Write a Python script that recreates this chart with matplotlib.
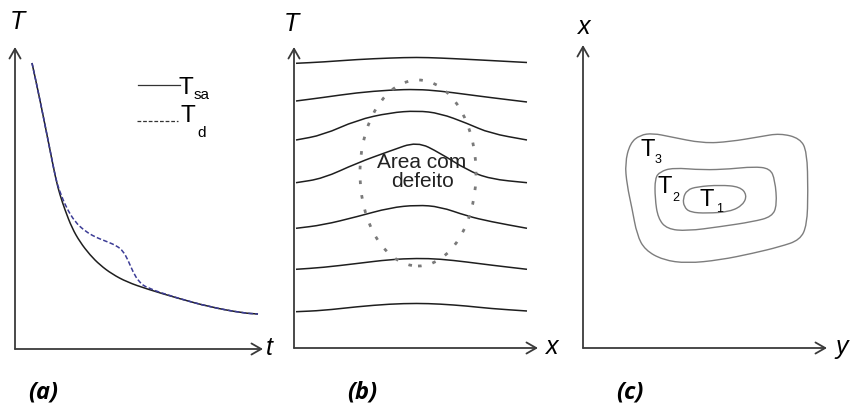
import numpy as np
import matplotlib
matplotlib.use("Agg")
import matplotlib.pyplot as plt
from matplotlib.path import Path
from matplotlib.patches import PathPatch, Ellipse

# ---- data (units: picture pixels measured from each panel's origin) ----
# (a) cooling curves
t_sa = [17, 25, 35, 41, 45, 50, 57, 65, 75, 85, 97, 112, 132, 162, 195, 228, 243]
T_sa = [286, 249, 199, 169, 154, 139, 121, 107, 94, 84, 75, 67, 60, 51, 42, 36, 35]
t_d = [17, 25, 35, 41, 45, 51, 60, 70, 80, 93, 102, 108, 113, 118, 124, 132, 162, 195, 228, 243]
T_d = [286, 249, 199, 169, 157, 142, 127, 118, 112, 107, 103, 98, 89, 77, 67, 61, 51, 42, 36, 35]

# (b) isotherm lines over x
x_lines = [2, 29, 63, 96, 123, 146, 173, 196, 233]
T_lines = [
    [284.7, 286, 288.5, 290, 290.7, 290, 288.7, 287.5, 285.5],
    [247, 250.5, 255.3, 258, 258.7, 257, 253.5, 250.5, 246],
    [208, 213, 228, 235.3, 237.3, 234.7, 224.7, 214.7, 208],
    [165.3, 169.5, 185, 197, 206.5, 195, 178, 169, 165.3],
    [119.7, 123, 131.3, 140.3, 143, 141.3, 132, 126.5, 119.7],
    [78.7, 80.5, 84.5, 88.5, 89.7, 89, 86, 83, 78.7],
    [36.3, 37.5, 41.3, 44, 44.7, 44, 42, 39.5, 37],
]
defect_center = (124, 175)
defect_size = (116, 186)

# (c) contour outlines in the y-x plane
T3_y = [42, 47, 57, 70, 87, 120, 147, 177, 197, 217, 224, 225, 224, 217, 197, 170, 137, 104, 80, 62, 54, 49, 44]
T3_x = [184.7, 204.7, 213, 214.7, 211.3, 204.7, 206.3, 211.3, 214.7, 209.7, 196.3, 156.3, 123, 108,
        101.3, 94.7, 88, 84.7, 88, 98, 113, 139.7, 163]
T2_y = [72, 77, 90, 120, 147, 170, 187, 192, 194, 189, 170, 137, 104, 84, 75, 72]
T2_x = [169.7, 176.3, 180.3, 178, 179, 181.3, 179.7, 168, 143, 131.3, 126.3, 121.3, 117, 119, 129.7, 149.7]
T1_y = [100, 104, 114, 137, 157, 164, 160, 147, 124, 107, 101]
T1_x = [149.7, 158, 161.3, 163, 161.3, 153, 143, 136.3, 134.7, 135.7, 141.3]

AX_COL = "#3a3a3a"
FONT = "Liberation Sans"


def smooth_path(xs, ys, closed=False):
    pts = np.column_stack([xs, ys]).astype(float)
    if closed:
        mids = (pts + np.roll(pts, -1, axis=0)) / 2
        verts = [mids[-1]]
        codes = [Path.MOVETO]
        for i in range(len(pts)):
            verts += [pts[i], mids[i]]
            codes += [Path.CURVE3, Path.CURVE3]
    else:
        mids = (pts[:-1] + pts[1:]) / 2
        verts = [pts[0], mids[0]]
        codes = [Path.MOVETO, Path.LINETO]
        for i in range(1, len(pts) - 1):
            verts += [pts[i], mids[i]]
            codes += [Path.CURVE3, Path.CURVE3]
        verts.append(pts[-1])
        codes.append(Path.LINETO)
    return Path(verts, codes)


def panel(fig, x0, y0, w, h):
    W, H = 854.0, 409.0
    ax = fig.add_axes([x0 / W, (H - y0) / H, w / W, h / H])
    ax.set_xlim(0, w)
    ax.set_ylim(0, h)
    ax.axis("off")
    arrow = dict(arrowstyle="->,head_length=0.7,head_width=0.4", color=AX_COL,
                 lw=1.3, shrinkA=0, shrinkB=0)
    ax.annotate("", xy=(w, 0), xytext=(0, 0), arrowprops=arrow, annotation_clip=False)
    ax.annotate("", xy=(0, h), xytext=(0, 0), arrowprops=arrow, annotation_clip=False)
    return ax


def label(ax, x, y, s, size=18, style="italic"):
    ax.text(x, y, s, fontsize=size, style=style, family=FONT, ha="center", va="center",
            clip_on=False)


def tag(ax, x, y, s):
    ax.text(x, y, s, fontsize=17, style="italic", weight="bold",
            family=["Open Sans", "DejaVu Sans"], ha="center", va="center", clip_on=False)


fig = plt.figure(figsize=(8.54, 4.09), dpi=100)

# ---- (a) ----
ax = panel(fig, 15, 349, 248, 302)
ax.add_patch(PathPatch(smooth_path(t_sa, T_sa), fill=False, color="#1e1e1e", lw=1.1))
ax.add_patch(PathPatch(smooth_path(t_d, T_d), fill=False, color="#3c3c96", lw=1.1,
                       linestyle=(0, (3, 1.5))))
ax.plot([123, 165], [264, 264], color="#333333", lw=0.9)
ax.plot([122, 163], [228, 228], color="#333333", lw=0.9, linestyle=(0, (3, 1.5)))
ax.text(171, 261, "T", fontsize=17.5, family=FONT, ha="center", va="center")
ax.text(187, 254, "sa", fontsize=11, family=FONT, ha="center", va="center")
ax.text(173, 233, "T", fontsize=17.5, family=FONT, ha="center", va="center")
ax.text(187, 216, "d", fontsize=11, family=FONT, ha="center", va="center")
label(ax, 2.5, 327, "T")
label(ax, 254, 1, "t")
tag(ax, 28, -43, "(a)")

# ---- (b) ----
ax = panel(fig, 294, 348, 244, 301)
for T_line in T_lines:
    ax.add_patch(PathPatch(smooth_path(x_lines, T_line), fill=False, color="#1e1e1e", lw=1.1))
ax.add_patch(Ellipse(defect_center, defect_size[0], defect_size[1], fill=False,
                     edgecolor="#7a7a7a", lw=2, linestyle=(0, (1.3, 4.0))))
ax.text(128, 176, "Area com\ndefeito", fontsize=15, family=FONT, ha="center", va="center",
        linespacing=1.0, color="#222222")
label(ax, -2.5, 324, "T")
label(ax, 258, 1, "x", style="italic")
tag(ax, 68, -44, "(b)")

# ---- (c) ----
ax = panel(fig, 583, 348, 244, 303)
for ys, xs in [(T3_y, T3_x), (T2_y, T2_x), (T1_y, T1_x)]:
    ax.add_patch(PathPatch(smooth_path(ys, xs, closed=True), fill=False,
                           edgecolor="#7d7d7d", lw=1.0))
for (tx, ty), (sx, sy), sub in [((65, 198), (75, 188), "3"),
                                 ((82, 161), (93, 150), "2"),
                                 ((124, 148), (137, 139), "1")]:
    ax.text(tx, ty, "T", fontsize=17, family=FONT, ha="center", va="center")
    ax.text(sx, sy, sub, fontsize=9, family=FONT, ha="center", va="center")
label(ax, 1.5, 321.5, "x")
label(ax, 259, 1, "y")
tag(ax, 47, -44, "(c)")

fig.savefig("out.png", dpi=100)
